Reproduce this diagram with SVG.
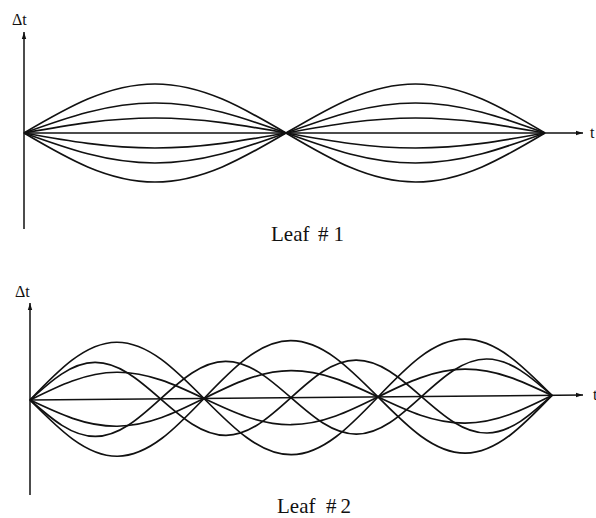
<svg xmlns="http://www.w3.org/2000/svg" width="596" height="518" viewBox="0 0 596 518">
  <defs>
    <marker id="arr" markerUnits="userSpaceOnUse" markerWidth="8" markerHeight="6" refX="7" refY="3" orient="auto">
      <path d="M0,0.8 L7,3 L0,5.2 z" fill="#111"/>
    </marker>
    <style>
      .ax{stroke:#111;stroke-width:1.5;fill:none}
      .cv{stroke:#111;stroke-width:1.7;fill:none;stroke-linejoin:round}
      .lbl{font-family:"Liberation Serif","Times New Roman",serif;fill:#111}
    </style>
  </defs>
  <rect width="596" height="518" fill="#fff"/>

  <g id="leaf1">
    <g id="leaf1-axes">
      <line class="ax" x1="24" y1="229" x2="24" y2="32" marker-end="url(#arr)"/>
      <line class="ax" x1="24" y1="133" x2="583" y2="133" marker-end="url(#arr)"/>
    </g>
    <g id="leaf1-curves">
      <path class="cv" d="M24,133 C66.7,107.9 107.6,84 155,84 S243.3,107.9 286,133 S368.6,182 415.5,182 S502.8,158.1 545,133"/>
      <path class="cv" d="M24,133 C66.7,158.1 107.6,182 155,182 S243.3,158.1 286,133 S368.6,84 415.5,84 S502.8,107.9 545,133"/>
      <path class="cv" d="M24,133 C66.7,117.6 107.6,103 155,103 S243.3,117.6 286,133 S368.6,163 415.5,163 S502.8,148.4 545,133"/>
      <path class="cv" d="M24,133 C66.7,148.4 107.6,163 155,163 S243.3,148.4 286,133 S368.6,103 415.5,103 S502.8,117.6 545,133"/>
      <path class="cv" d="M24,133 C66.7,125.3 107.6,118 155,118 S243.3,125.3 286,133 S368.6,148 415.5,148 S502.8,140.7 545,133"/>
      <path class="cv" d="M24,133 C66.7,140.7 107.6,148 155,148 S243.3,140.7 286,133 S368.6,118 415.5,118 S502.8,125.3 545,133"/>
    </g>
    <text class="lbl" x="12" y="25" font-size="16">Δt</text>
    <text class="lbl" x="590" y="138" font-size="16">t</text>
    <text class="lbl" x="271" y="241" font-size="21">Leaf <tspan x="318" letter-spacing="5">#1</tspan></text>
  </g>

  <g id="leaf2">
    <g id="leaf2-axes">
      <line class="ax" x1="30" y1="495" x2="30" y2="303" marker-end="url(#arr)"/>
      <line class="ax" x1="30" y1="400" x2="583" y2="395" marker-end="url(#arr)"/>
    </g>
    <g id="leaf2-curves" transform="rotate(-0.5 30 400)">
      <path class="cv" d="M30,400 C58.4,370.8 85.5,343 117,343 S175.6,370.8 204,400 S259.5,457 291,457 S349.6,429.2 378,400 S433.5,343 465,343 S523.6,370.8 552,400"/>
      <path class="cv" d="M30,400 C58.4,429.2 85.5,457 117,457 S175.6,429.2 204,400 S259.5,343 291,343 S349.6,370.8 378,400 S433.5,457 465,457 S523.6,429.2 552,400"/>
      <path class="cv" d="M30,400 C58.4,386.2 85.5,373 117,373 S175.6,386.2 204,400 S259.5,427 291,427 S349.6,413.8 378,400 S433.5,373 465,373 S523.6,386.2 552,400"/>
      <path class="cv" d="M30,400 C58.4,413.8 85.5,427 117,427 S175.6,413.8 204,400 S259.5,373 291,373 S349.6,386.2 378,400 S433.5,427 465,427 S523.6,413.8 552,400"/>
      <path class="cv" d="M30,400 C51.3,381 71.6,363 95.25,363 S139.2,381 160.5,400 S202.1,437 225.75,437 S269.7,419 291,400 S332.6,363 356.25,363 S400.2,381 421.5,400 S463.1,437 486.75,437 S530.7,419 552,400"/>
      <path class="cv" d="M30,400 C51.3,419 71.6,437 95.25,437 S139.2,419 160.5,400 S202.1,363 225.75,363 S269.7,381 291,400 S332.6,437 356.25,437 S400.2,419 421.5,400 S463.1,363 486.75,363 S530.7,381 552,400"/>
    </g>
    <text class="lbl" x="15" y="297" font-size="16">Δt</text>
    <text class="lbl" x="593" y="400" font-size="16">t</text>
    <text class="lbl" x="277" y="513" font-size="21">Leaf <tspan x="326" letter-spacing="4">#2</tspan></text>
  </g>
</svg>
